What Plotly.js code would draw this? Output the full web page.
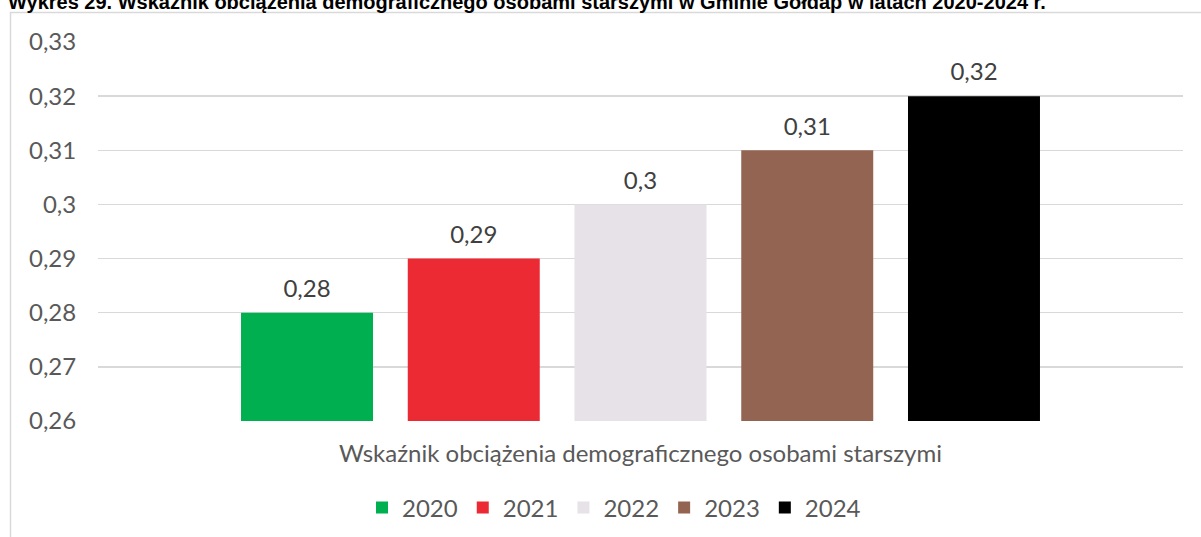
<!DOCTYPE html>
<html>
<head>
<meta charset="utf-8">
<script src="https://cdn.plot.ly/plotly-3.0.1.min.js"></script>
<style>
  html, body { margin: 0; padding: 0; background: #fff; }
  #chart { width: 1201px; height: 537px; }
</style>
</head>
<body>
<div id="chart"></div>
<script>
// data
const category = 'Wskaźnik obciążenia demograficznego osobami starszymi';
const years = ['2020', '2021', '2022', '2023', '2024'];
const values = [0.28, 0.29, 0.30, 0.31, 0.32];
const colors = ['#00B050', '#EC2A33', '#E6E2E7', '#946453', '#000000'];
const titleText = 'Wykres 29. Wskaźnik obciążenia demograficznego osobami starszymi w Gminie Gołdap w latach 2020-2024 r.';

const W = 1201, H = 537;
const M = { l: 98, r: 18, t: 42, b: 116 };
const plotW = W - M.l - M.r;
const plotH = H - M.t - M.b;
// pixel -> paper helpers (for the frame and cut-off title only)
const px = x => (x - M.l) / plotW;
const py = y => (H - M.b - y) / plotH;

const GAP = 0.2316;

const bars = years.map((yr, i) => ({
    type: 'bar',
    name: yr,
    x: [category],
    y: [values[i]],
    marker: { color: colors[i] },
    hoverinfo: 'skip'
}));

// value labels: invisible markers grouped like the bars, text on top
const labels = years.map((yr, i) => ({
    type: 'scatter',
    mode: 'markers+text',
    name: yr + ' label',
    showlegend: false,
    x: [category],
    y: [values[i]],
    text: [values[i]],
    texttemplate: '%{y}',
    textposition: 'top center',
    marker: { size: 14, opacity: 0 },
    cliponaxis: false,
    textfont: { family: 'Lato, sans-serif', size: 24, color: '#404040' },
    hoverinfo: 'skip'
}));

const layout = {
    width: W,
    height: H,
    margin: M,
    paper_bgcolor: '#fff',
    plot_bgcolor: '#fff',
    separators: ', ',
    barmode: 'group',
    bargap: GAP,
    bargroupgap: 0.2084,
    scattermode: 'group',
    scattergap: GAP,
    font: { family: 'Lato, sans-serif', size: 24, color: '#595959' },
    showlegend: true,
    legend: {
        orientation: 'h',
        xref: 'container', yref: 'container',
        x: 614 / W, xanchor: 'center',
        y: 1 - 508 / H, yanchor: 'middle',
        font: { size: 24, color: '#595959' },
        traceorder: 'normal'
    },
    xaxis: {
        type: 'category',
        automargin: false,
        showgrid: false,
        zeroline: false,
        showline: false,
        ticks: 'outside',
        ticklen: 11,
        tickcolor: 'rgba(0,0,0,0)',
        tickfont: { size: 24, color: '#595959' }
    },
    yaxis: {
        automargin: false,
        range: [0.26, 0.33],
        dtick: 0.01,
        tick0: 0.26,
        showgrid: true,
        gridcolor: '#D9D9D9',
        gridwidth: 1.5,
        zeroline: false,
        showline: false,
        ticks: 'outside',
        ticklen: 16,
        tickcolor: 'rgba(0,0,0,0)',
        tickfont: { size: 24, color: '#595959' }
    },
    shapes: [{
        type: 'rect',
        xref: 'paper', yref: 'paper',
        x0: px(10.5), x1: px(1215),
        y0: py(12.5), y1: py(560),
        line: { color: '#D9D9D9', width: 1.5 },
        layer: 'below'
    }],
    annotations: [{
        xref: 'paper', yref: 'paper',
        x: px(6), xanchor: 'left',
        y: py(2), yanchor: 'middle',
        text: '<b>' + titleText + '</b>',
        showarrow: false,
        font: { family: 'Liberation Sans, Arial, sans-serif', size: 20, color: '#000' }
    }]
};

Plotly.newPlot('chart', bars.concat(labels), layout, { displayModeBar: false, staticPlot: true });
</script>
</body>
</html>
